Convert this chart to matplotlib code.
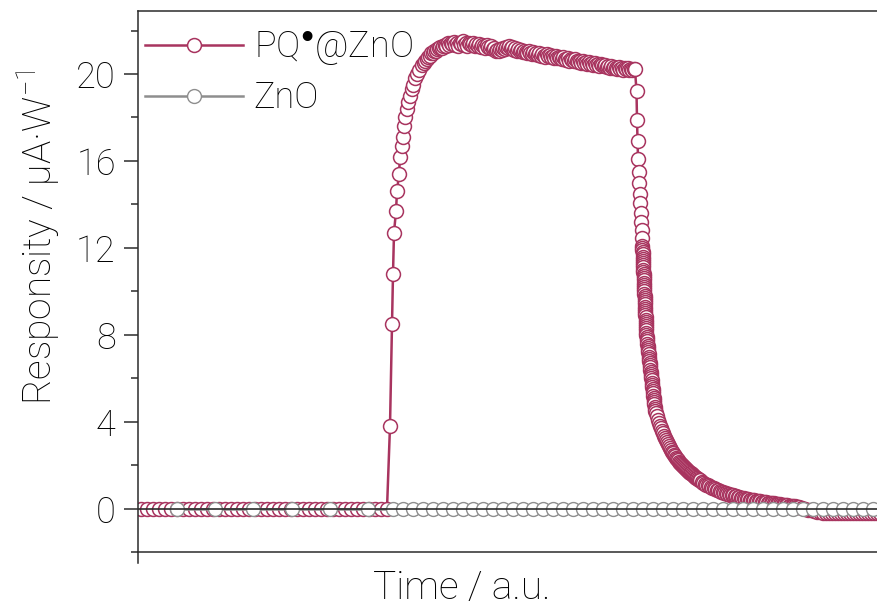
import numpy as np
import matplotlib
matplotlib.use("Agg")
import matplotlib.pyplot as plt
from matplotlib.ticker import MultipleLocator

plt.rcParams['font.family'] = ['Roboto', 'Liberation Sans', 'DejaVu Sans']
plt.rcParams['font.weight'] = 'light'
plt.rcParams['axes.labelweight'] = 'light'
plt.rcParams['mathtext.fontset'] = 'custom'
plt.rcParams['mathtext.rm'] = 'Roboto:light'
plt.rcParams['mathtext.sf'] = 'DejaVu Sans'

# time in a.u. (0 = start of trace)
# PQ@ZnO: dark baseline, fast rise, plateau, decay after light off
base_start, base_step = 3, 6
base_val = [0.0, 0.0, 0.0, 0.0, 0.0, 0.0, 0.0, 0.0, 0.0, 0.0,
            0.0, 0.0, 0.0, 0.0, 0.0, 0.0, 0.0, 0.0, 0.0, 0.0,
            0.0, 0.0, 0.0, 0.0, 0.0, 0.0, 0.0, 0.0, 0.0, 0.0,
            0.0, 0.0, 0.0, 0.0, 0.0, 0.0, 0.0, 0.0, 0.0, 0.0,
            0.0, 0.0]

rise_t = [252, 254, 255, 256, 258, 259, 261, 262, 263.5, 264.5,
          265.5, 267, 268.5, 270, 272, 273.5, 275, 277, 279, 281]
rise_val = [3.8, 8.5, 10.8, 12.7, 13.7, 14.6, 15.4, 16.2, 16.7, 17.1,
            17.6, 18.0, 18.4, 18.7, 19.0, 19.3, 19.5, 19.8, 20.0, 20.2]

plat_start, plat_step = 284, 1.5
plat_val = [20.4, 20.5, 20.62, 20.7, 20.8, 20.85, 20.95, 20.98, 21.05, 21.08,
            21.15, 21.2, 21.25, 21.22, 21.3, 21.35, 21.3, 21.42, 21.35, 21.45,
            21.38, 21.48, 21.35, 21.45, 21.3, 21.42, 21.38, 21.5, 21.35, 21.42,
            21.3, 21.45, 21.38, 21.32, 21.42, 21.3, 21.4, 21.28, 21.38, 21.25,
            21.35, 21.3, 21.22, 21.32, 21.25, 21.18, 21.28, 21.15, 21.2, 21.08,
            21.12, 21.05, 21.15, 21.1, 21.22, 21.15, 21.25, 21.18, 21.28, 21.2,
            21.25, 21.12, 21.2, 21.08, 21.15, 21.05, 21.12, 21.0, 21.08, 21.02,
            20.95, 21.05, 20.98, 20.9, 21.02, 20.92, 20.98, 20.88, 20.95, 20.85,
            20.92, 20.85, 20.8, 20.9, 20.82, 20.88, 20.78, 20.85, 20.75, 20.82,
            20.72, 20.8, 20.75, 20.68, 20.78, 20.7, 20.65, 20.72, 20.62, 20.7,
            20.65, 20.58, 20.68, 20.6, 20.55, 20.62, 20.52, 20.6, 20.5, 20.56,
            20.48, 20.55, 20.45, 20.52, 20.42, 20.5, 20.4, 20.46, 20.38, 20.45,
            20.4, 20.35, 20.42, 20.32, 20.38, 20.3, 20.36, 20.28, 20.34, 20.3,
            20.25, 20.32, 20.24, 20.28, 20.2, 20.27, 20.22, 20.26, 20.2, 20.24,
            20.2, 20.25, 20.22]

# light off: fast drop, then slow tail
decA_start, decA_step = 498.5, 0.5
decA_val = [19.2, 17.9, 16.9, 16.1, 15.5, 15.0, 14.5, 14.05, 13.6, 13.2,
            12.8, 12.45]

decA2_start, decA2_step = 504.2, 0.1
decA2_val = [12.1, 12.0, 11.9, 11.8, 11.7, 11.6, 11.5, 11.4, 11.3, 11.2,
             11.1, 11.0, 10.9, 10.8, 10.7, 10.6, 10.5, 10.4, 10.3, 10.2,
             10.1, 10.0, 9.9, 9.8, 9.7, 9.6, 9.5, 9.4, 9.3, 9.2,
             9.1, 9.0, 8.9, 8.8, 8.7, 8.6, 8.5, 8.4, 8.3, 8.2,
             8.1, 8.0]

decA3_start, decA3_step = 508.5, 0.25
decA3_val = [7.9, 7.8, 7.7, 7.6, 7.5, 7.4, 7.3, 7.2, 7.1, 7.0,
             6.9, 6.8, 6.7, 6.6, 6.5, 6.4, 6.3, 6.2, 6.1, 6.0,
             5.9, 5.8, 5.7, 5.6, 5.5, 5.4, 5.3, 5.2, 5.1, 5.0,
             4.9, 4.8, 4.7, 4.6, 4.5]

decB_start, decB_step = 518, 1
decB_val = [4.4, 4.25, 4.1, 3.95, 3.82, 3.7, 3.58, 3.46, 3.35, 3.25,
            3.15, 3.05, 2.96, 2.87, 2.79, 2.71, 2.63, 2.56, 2.49, 2.42,
            2.35, 2.29, 2.23, 2.17, 2.12, 2.06, 2.01, 1.96, 1.91, 1.87,
            1.82, 1.78, 1.74, 1.7, 1.66, 1.62, 1.58, 1.54, 1.5, 1.46,
            1.43, 1.39, 1.36, 1.33, 1.3]

decC_start, decC_step = 563.5, 1.5
decC_val = [1.22, 1.18, 1.14, 1.10, 1.07, 1.03, 1.00, 0.97, 0.94, 0.91,
            0.88, 0.85, 0.82, 0.79, 0.77, 0.74, 0.72, 0.69, 0.67, 0.65,
            0.63, 0.61, 0.59, 0.57, 0.55, 0.53, 0.51, 0.50, 0.48, 0.46,
            0.45, 0.43, 0.42, 0.40, 0.39, 0.38, 0.36, 0.35, 0.34, 0.33,
            0.32, 0.31, 0.30, 0.29, 0.28, 0.27, 0.26, 0.25, 0.24, 0.23,
            0.22, 0.21, 0.20, 0.19, 0.18, 0.17, 0.16, 0.15, 0.14, 0.13,
            0.12, 0.11, 0.10, 0.09, 0.08, 0.07]

decD_start, decD_step = 664, 3
decD_val = [0.04, 0.0, -0.04, -0.08, -0.11, -0.14, -0.16, -0.18, -0.18, -0.19,
            -0.19, -0.2, -0.2, -0.2, -0.2, -0.2, -0.2, -0.2, -0.2, -0.2,
            -0.2, -0.2, -0.2, -0.2, -0.2, -0.2, -0.2]

# bare ZnO: sparse samples at first, then denser
zno_t_dark = [39, 77, 115, 154, 192, 230]
zno_start, zno_step = 255, 10
zno_val_dark = [0.0, 0.0, 0.0, 0.0, 0.0, 0.0]
zno_val = [0.0, 0.0, 0.0, 0.0, 0.0, 0.0, 0.0, 0.0, 0.0, 0.0,
           0.0, 0.0, 0.0, 0.0, 0.0, 0.0, 0.0, 0.0, 0.0, 0.0,
           0.0, 0.0, 0.0, 0.0, 0.0, 0.0, 0.0, 0.0, 0.0, 0.0,
           0.0, 0.0, 0.0, 0.0, 0.0, 0.0, 0.0, 0.0, 0.0, 0.0,
           0.0, 0.0, 0.0, 0.0, 0.0, 0.0, 0.0, 0.0, 0.0]


def seg(start, step, vals):
    return start + step * np.arange(len(vals))


pq_t = np.concatenate([seg(base_start, base_step, base_val), rise_t,
                       seg(plat_start, plat_step, plat_val),
                       seg(decA_start, decA_step, decA_val),
                       seg(decA2_start, decA2_step, decA2_val),
                       seg(decA3_start, decA3_step, decA3_val),
                       seg(decB_start, decB_step, decB_val),
                       seg(decC_start, decC_step, decC_val),
                       seg(decD_start, decD_step, decD_val)])
pq_y = np.concatenate([base_val, rise_val, plat_val, decA_val, decA2_val,
                       decA3_val, decB_val, decC_val, decD_val])
zno_t = np.concatenate([zno_t_dark, seg(zno_start, zno_step, zno_val)])
zno_y = np.concatenate([zno_val_dark, zno_val])

pq_color = '#A8345F'
zno_color = '#8E8E8E'
ink = '#2b2b2b'

fig = plt.figure(figsize=(8.77, 6.10), dpi=100)
ax = fig.add_axes([138 / 877, 47 / 610, 1 - 138 / 877, 552 / 610])

ax.plot(pq_t, pq_y, '-o', color=pq_color, lw=1.8, ms=10, mfc='white',
        mec=pq_color, mew=1.1, zorder=2, label='PQ$^{\\mathsf{•}}$@ZnO')
ax.plot(zno_t, zno_y, '-o', color=zno_color, lw=1.8, ms=10, mfc='white',
        mec=zno_color, mew=1.0, zorder=3, label='ZnO')
ax.axhline(0, color=ink, lw=1.2, zorder=4)

ax.set_xlim(0, 739)
ax.set_ylim(-2.5, 22.9)
ax.set_xticks([])
ax.yaxis.set_major_locator(MultipleLocator(4))
ax.set_yticks([-2, 2, 6, 10, 14, 18, 22], minor=True)
ax.tick_params(axis='y', which='major', length=10, width=1.1, color=ink,
               labelsize=26, pad=6)
ax.tick_params(axis='y', which='minor', length=5, width=1.1, color=ink)

ax.spines['right'].set_visible(False)
ax.spines['bottom'].set_position(('data', -2))
for s in ['left', 'top', 'bottom']:
    ax.spines[s].set_color(ink)
    ax.spines[s].set_linewidth(1.1)

ax.set_ylabel('Responsity / μA·W$^{\\mathregular{-1}}$', fontsize=28)
ax.yaxis.set_label_coords(-0.103, 0.59)
ax.set_xlabel('Time / a.u.', fontsize=28)
ax.xaxis.set_label_coords(0.438, -0.012)

ax.legend(loc='upper left', bbox_to_anchor=(0.0, 0.98), frameon=False,
          fontsize=26, handlelength=2.7, handletextpad=0.3, labelspacing=0.36,
          borderpad=0, borderaxespad=0.2, numpoints=1)

fig.savefig('out.png', dpi=100)
